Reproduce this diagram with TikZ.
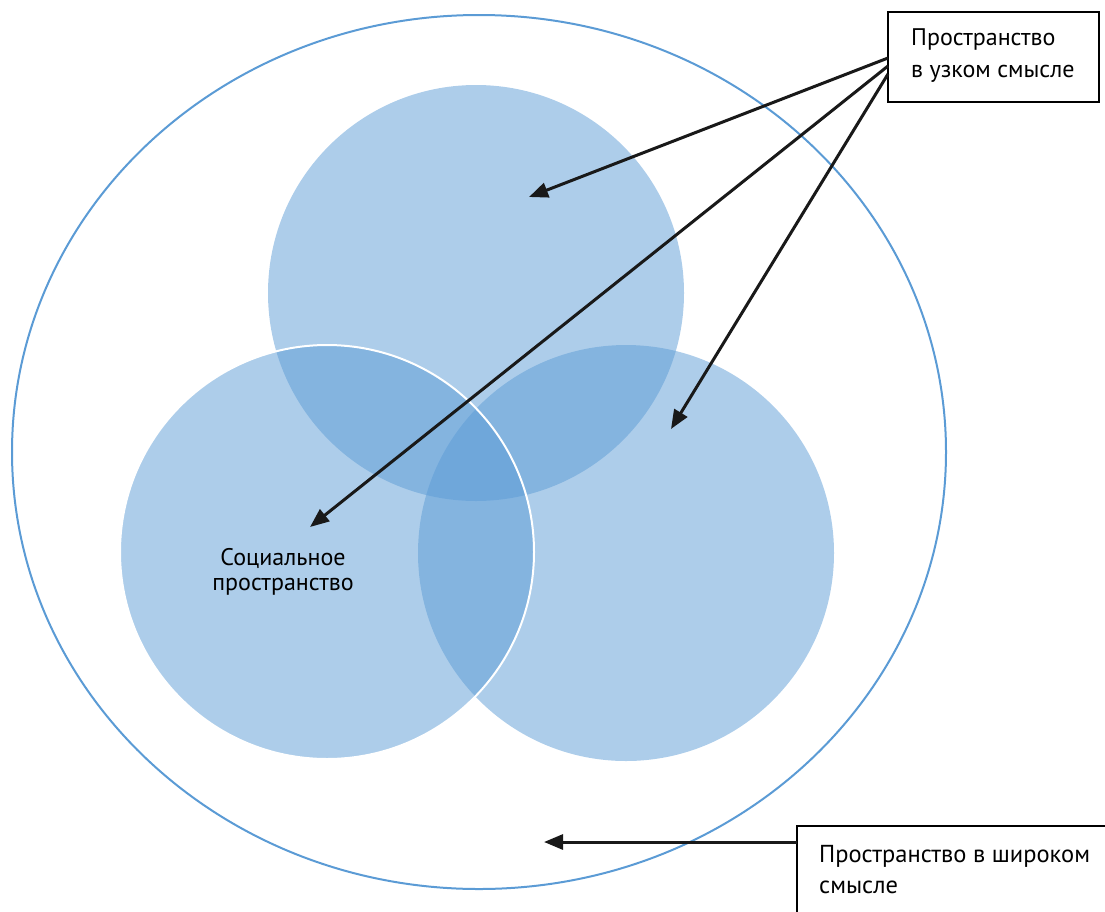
\documentclass[tikz,border=0pt]{standalone}
\usepackage{fontspec}
\setmainfont{PT Sans}
\usetikzlibrary{arrows.meta}
\definecolor{officeblue}{HTML}{5B9BD5}
\tikzset{
  blob/.style={fill=officeblue, fill opacity=0.5, draw=none},
  ptr/.style={line width=3pt, draw=black!90, -{Triangle[length=19pt,width=15pt]}},
  txt/.style={align=left, inner sep=0pt, anchor=north west}
}
\begin{document}
\begin{tikzpicture}[x=1pt,y=-1pt]
\useasboundingbox (0,0) rectangle (1105,911);
% wide ellipse
\draw[officeblue, line width=2pt] (479,452) ellipse [x radius=467, y radius=437];
% circles
\fill[blob] (476,293) circle [radius=208];
\fill[blob] (626,553) circle [radius=208];
\path[blob, draw=white, draw opacity=1, line width=2pt] (327,552) circle [radius=207];
% boxes
\draw[line width=1.6pt, fill=white] (888,12) rectangle (1099,102);
\node (narrow) [txt, font=\fontsize{24pt}{32pt}\selectfont] at (911,28) {Пространство\\в узком смысле};
\coordinate (nsrc1) at (888,58);
\coordinate (nsrc2) at (888,66);
\coordinate (nsrc3) at (888,74);
\draw[line width=1.6pt, fill=white] (797,826) rectangle (1120,930);
\node (wide) [txt, font=\fontsize{24.5pt}{31pt}\selectfont] at (819,845) {Пространство в широком\\смысле};
\coordinate (wsrc) at (797,842);
% social label
\node (social) [font=\fontsize{24pt}{25pt}\selectfont, align=center, inner sep=0pt, anchor=north] at (283,548) {Социальное\\пространство};
% arrow targets
\coordinate (t1) at (529,197);
\coordinate (t2) at (310,527);
\coordinate (t3) at (671,429);
\coordinate (t4) at (544,842);
\draw[ptr] (nsrc1) -- (t1);
\draw[ptr] (nsrc2) -- (t2);
\draw[ptr] (nsrc3) -- (t3);
\draw[ptr] (wsrc) -- (t4);
\end{tikzpicture}
\end{document}
